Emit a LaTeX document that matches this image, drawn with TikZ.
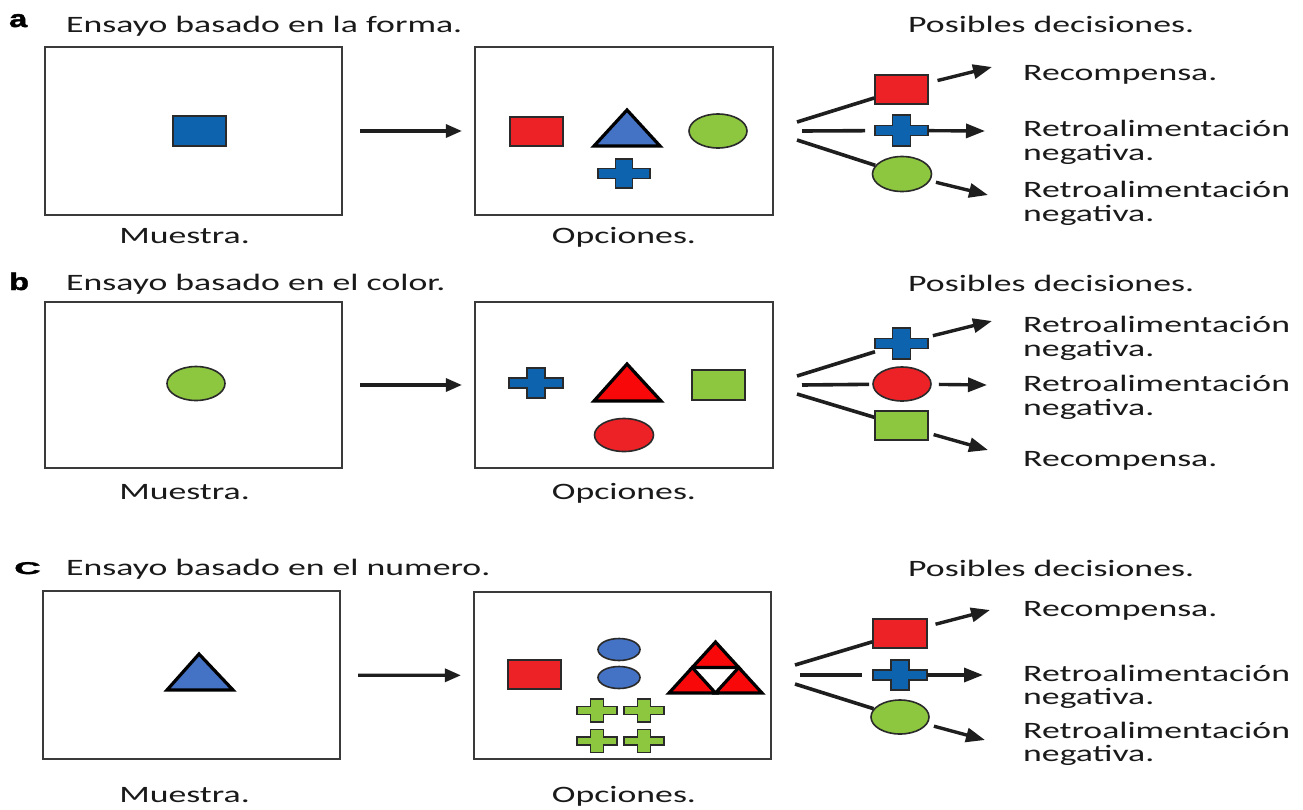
\documentclass[tikz,border=0pt]{standalone}
\usepackage{fontspec}
\setmainfont{Carlito}[FakeStretch=1.52]
\newfontfamily\labfont{Liberation Sans}[FakeStretch=1.35, FakeBold=1.8]
\usetikzlibrary{shapes.geometric,arrows.meta}
\definecolor{boxc}{HTML}{3A3A3A}
\definecolor{olc}{HTML}{2A2A2A}
\definecolor{linec}{HTML}{1E1E1E}
\definecolor{txtc}{HTML}{1A1A1A}
\definecolor{blueD}{HTML}{0E63AE}
\definecolor{blueL}{HTML}{4472C4}
\definecolor{redR}{HTML}{EC2227}
\definecolor{redT}{HTML}{F80808}
\definecolor{greenC}{HTML}{8DC63F}
\tikzset{
  panelbox/.style={draw=boxc, line width=2.2pt, inner sep=0pt, minimum width=297pt, minimum height=167pt},
  txt/.style={font=\fontsize{23.5}{24}\selectfont, text=txtc, inner sep=0pt, anchor=base west},
  ctxt/.style={txt, anchor=base},
  lab/.style={font={\labfont\bfseries\fontsize{24}{24}\selectfont}, text=black, inner sep=0pt, anchor=base west},
  shp/.style={draw=olc, line width=1.6pt},
  rectn/.style={shp, rectangle, inner sep=0pt, minimum width=53pt, minimum height=29pt},
  elln/.style={shp, ellipse, inner sep=0pt, minimum width=58pt, minimum height=34pt},
  tri/.style={draw=black, line width=3.2pt, line join=miter},
  fan/.style={draw=linec, line width=3.6pt},
  arr/.style={draw=linec, line width=3.4pt, -{Triangle[length=19pt,width=14pt]}},
  mainarr/.style={draw=linec, line width=3.2pt, -{Triangle[length=16pt,width=13pt]}},
}
% cross: #1 name, #2 x, #3 y, #4 width, #5 height, #6 colour
\newcommand\crossnode[6]{%
  \node[inner sep=0pt, outer sep=0pt, minimum width=#4pt, minimum height=#5pt] (#1) at (#2,#3) {};
  \draw[shp, fill=#6, shift={(#2,#3)}]
    (-#4/6,-#5/2) -- (#4/6,-#5/2) -- (#4/6,-#5/6) -- (#4/2,-#5/6) -- (#4/2,#5/6) -- (#4/6,#5/6)
    -- (#4/6,#5/2) -- (-#4/6,#5/2) -- (-#4/6,#5/6) -- (-#4/2,#5/6) -- (-#4/2,-#5/6) -- (-#4/6,-#5/6) -- cycle;
}
\begin{document}
\begin{tikzpicture}[x=1pt,y=-1pt]
\fill[white] (0,0) rectangle (1303,809);
\useasboundingbox (0,0) rectangle (1303,809);

%% ---------------- Panel a ----------------
\node[lab] (la) at (9,27) {a};
\node[txt] (titA) at (66,32) {Ensayo basado en la forma.};
\node[txt] (posA) at (908,32) {Posibles decisiones.};
\node[panelbox, minimum height=168pt] (mA) at (193.5,131) {};
\node[panelbox, minimum width=298pt, minimum height=168pt] (oA) at (624,131) {};
\node[ctxt] (muA) at (184.5,243) {Muestra.};
\node[ctxt] (opA) at (624,243) {Opciones.};
\draw[mainarr, shorten <=17pt, shorten >=12pt] (mA) -- (oA);
% sample
\node[rectn, fill=blueD, minimum height=30pt] (sA) at (199.5,131) {};
% options
\node[rectn, fill=redR] (oA1) at (536.5,131.5) {};
\draw[tri, fill=blueL] (594,146) -- (627,110) -- (660,146) -- cycle;
\node[elln, fill=greenC] (oA3) at (718,131) {};
\crossnode{oA4}{624}{173.5}{52}{29}{blueD}
% decisions
\node[rectn, fill=redR] (dA1) at (901.5,89.5) {};
\crossnode{dA2}{901.5}{130.5}{53}{31}{blueD}
\node[elln, fill=greenC, minimum width=59pt, minimum height=35pt] (dA3) at (902,174) {};
\coordinate (fA1) at (797,122);
\coordinate (fA2) at (802,131);
\coordinate (fA3) at (797,140);
\draw[fan] (fA1) -- (dA1);
\draw[fan, shorten >=10pt] (fA2) -- (dA2);
\draw[fan] (fA3) -- (dA3);
\coordinate (tA1) at (992,67);
\coordinate (tA2) at (985,131);
\coordinate (tA3) at (988,195);
\draw[arr, shorten <=9pt] (dA1) -- (tA1);
\draw[arr] (dA2) -- (tA2);
\draw[arr, shorten <=6pt] (dA3) -- (tA3);
\node[txt] (rA1) at (1023,80) {Recompensa.};
\node[txt] (rA2) at (1023,136) {Retroalimentación};
\node[txt] (rA2b) at (1023,160) {negativa.};
\node[txt] (rA3) at (1023,197) {Retroalimentación};
\node[txt] (rA3b) at (1023,221) {negativa.};

%% ---------------- Panel b ----------------
\node[lab] (lb) at (9,290) {b};
\node[txt] (titB) at (66,290) {Ensayo basado en el color.};
\node[txt] (posB) at (908,291) {Posibles decisiones.};
\node[panelbox, minimum height=166pt] (mB) at (193.5,385) {};
\node[panelbox, minimum width=298pt, minimum height=166pt] (oB) at (624,385) {};
\node[ctxt] (muB) at (184.5,499) {Muestra.};
\node[ctxt] (opB) at (624,499) {Opciones.};
\draw[mainarr, shorten <=17pt, shorten >=12pt] (mB) -- (oB);
% sample
\node[elln, fill=greenC] (sB) at (196,383.5) {};
% options
\crossnode{oB1}{536}{383}{54}{30}{blueD}
\draw[tri, fill=redT] (594,401) -- (627,364) -- (661,401) -- cycle;
\node[rectn, fill=greenC, minimum height=30pt] (oB3) at (718.5,385) {};
\node[elln, fill=redR, minimum width=59pt, minimum height=33pt] (oB4) at (624,435) {};
% decisions
\crossnode{dB1}{901.5}{343.5}{53}{31}{blueD}
\node[elln, fill=redR] (dB2) at (902,384) {};
\node[rectn, fill=greenC] (dB3) at (901.5,425.5) {};
\coordinate (fB1) at (797,376);
\coordinate (fB2) at (802,385);
\coordinate (fB3) at (797,394);
\draw[fan] (fB1) -- (dB1);
\draw[fan, shorten >=3pt] (fB2) -- (dB2);
\draw[fan] (fB3) -- (dB3);
\coordinate (tB1) at (992,321);
\coordinate (tB2) at (987,385);
\coordinate (tB3) at (988,450);
\draw[arr, shorten <=5pt] (dB1) -- (tB1);
\draw[arr, shorten <=7pt] (dB2) -- (tB2);
\draw[arr, shorten <=5pt] (dB3) -- (tB3);
\node[txt] (rB1) at (1023,332) {Retroalimentación};
\node[txt] (rB1b) at (1023,356) {negativa.};
\node[txt] (rB2) at (1023,391) {Retroalimentación};
\node[txt] (rB2b) at (1023,415) {negativa.};
\node[txt] (rB3) at (1023,466) {Recompensa.};

%% ---------------- Panel c ----------------
\node[lab] (lc) at (14,574) {\fontsize{17}{18}\selectfont\scalebox{1.6}[1]{C}};
\node[txt] (titC) at (66,575) {Ensayo basado en el numero.};
\node[txt] (posC) at (908,576) {Posibles decisiones.};
\node[panelbox, minimum height=168pt] (mC) at (191.5,675) {};
\node[panelbox, minimum height=167pt] (oC) at (622.5,675.5) {};
\node[ctxt] (muC) at (184.5,802) {Muestra.};
\node[ctxt] (opC) at (624,802) {Opciones.};
\draw[mainarr, shorten <=17pt, shorten >=12pt] (mC) -- (oC);
% sample
\draw[tri, fill=blueL] (167,690) -- (199,654) -- (233,690) -- cycle;
% options
\node[rectn, fill=redR] (oC1) at (534.5,674.5) {};
\node[elln, fill=blueL, minimum width=42pt, minimum height=22pt] (oC2) at (619,649.5) {};
\node[elln, fill=blueL, minimum width=42pt, minimum height=22pt] (oC3) at (619,677.5) {};
\draw[tri, fill=redT] (669,693) -- (715.5,693) -- (692.25,667.5) -- cycle;
\draw[tri, fill=redT] (715.5,693) -- (762,693) -- (738.75,667.5) -- cycle;
\draw[tri, fill=redT] (692.25,667.5) -- (738.75,667.5) -- (715.5,642) -- cycle;
\crossnode{oC5}{597}{710.5}{40}{23}{greenC}
\crossnode{oC6}{644}{710.5}{40}{23}{greenC}
\crossnode{oC7}{597}{741}{40}{23}{greenC}
\crossnode{oC8}{644}{741}{40}{23}{greenC}
% decisions
\node[rectn, fill=redR, minimum width=54pt] (dC1) at (900,633.5) {};
\crossnode{dC2}{900}{675}{54}{30}{blueD}
\node[elln, fill=greenC] (dC3) at (900,717) {};
\coordinate (fC1) at (795,665);
\coordinate (fC2) at (800,675);
\coordinate (fC3) at (795,684);
\draw[fan] (fC1) -- (dC1);
\draw[fan, shorten >=11pt] (fC2) -- (dC2);
\draw[fan] (fC3) -- (dC3);
\coordinate (tC1) at (990,610);
\coordinate (tC2) at (983,675);
\coordinate (tC3) at (985,740);
\draw[arr, shorten <=8pt] (dC1) -- (tC1);
\draw[arr] (dC2) -- (tC2);
\draw[arr, shorten <=7pt] (dC3) -- (tC3);
\node[txt] (rC1) at (1023,616) {Recompensa.};
\node[txt] (rC2) at (1023,681) {Retroalimentación};
\node[txt] (rC2b) at (1023,704) {negativa.};
\node[txt] (rC3) at (1023,738) {Retroalimentación};
\node[txt] (rC3b) at (1023,761) {negativa.};
\end{tikzpicture}
\end{document}
